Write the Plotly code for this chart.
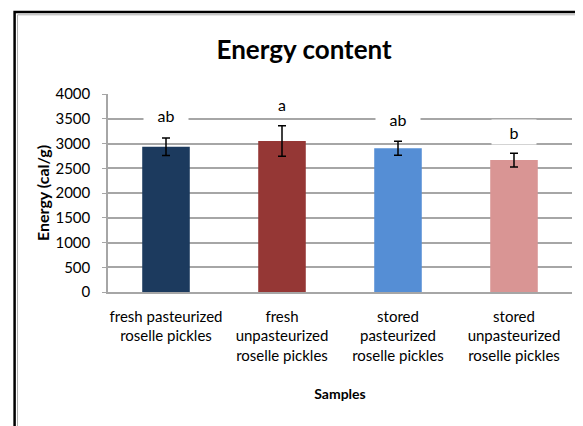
import plotly.graph_objects as go

categories = ["fresh pasteurized<br>roselle pickles",
              "fresh<br>unpasteurized<br>roselle pickles",
              "stored<br>pasteurized<br>roselle pickles",
              "stored<br>unpasteurized<br>roselle pickles"]
energy = [2935, 3050, 2905, 2665]
errors = [175, 310, 140, 140]
letters = ["ab", "a", "ab", "b"]
letter_y = [3570, 3800, 3490, 3230]
colors = ["#1C3A5E", "#953735", "#558ED5", "#D99594"]
yticks = [0, 500, 1000, 1500, 2000, 2500, 3000, 3500, 4000]

font = "Lato, 'Open Sans', sans-serif"

fig = go.Figure()
fig.add_trace(go.Bar(
    x=categories, y=energy,
    marker=dict(color=colors, line=dict(width=0)),
    error_y=dict(type="data", array=errors, color="black", thickness=1.5, width=4),
    width=0.41,
))

for c, t, ly in zip(categories, letters, letter_y):
    fig.add_annotation(x=c, y=ly, xref="x", yref="y", text=t, showarrow=False,
                       font=dict(family=font, size=16, color="black"),
                       bgcolor="white", width=42, height=22)

# outer frame (page body has 8px margin -> figure starts at (8,8))
fig.add_shape(type="rect", xref="paper", yref="paper",
              x0=-0.2013, x1=1.2, y0=-0.8, y1=1.414,
              line=dict(color="black", width=2.5), layer="below")
fig.add_shape(type="rect", xref="paper", yref="paper",
              x0=-0.195, x1=1.2, y0=-0.8, y1=1.40,
              line=dict(color="#b0b0b0", width=1), layer="below")

fig.update_layout(
    width=575, height=418,
    margin=dict(l=100, r=11, t=86, b=134, autoexpand=False),
    paper_bgcolor="white", plot_bgcolor="white",
    showlegend=False,
    title=dict(text="<b>Energy content</b>", x=0.515, xanchor="center",
               y=0.9, yanchor="middle",
               font=dict(family=font, size=26, color="black")),
    font=dict(family=font, size=14, color="black"),
)
fig.update_yaxes(range=[0, 4000], tickvals=yticks,
                 showgrid=True, gridcolor="#a6a6a6", gridwidth=1.5,
                 showline=True, linecolor="#a6a6a6", linewidth=1.5,
                 ticks="outside", ticklen=4, tickcolor="#a6a6a6",
                 ticklabelstandoff=9,
                 zeroline=False,
                 tickfont=dict(family=font, size=15),
                 title=dict(text="<b>Energy (cal/g)</b>", standoff=2,
                            font=dict(family=font, size=16)))
fig.update_xaxes(showline=True, linecolor="#a6a6a6", linewidth=1.5,
                 ticks="", tickfont=dict(family=font, size=15),
                 ticklabelstandoff=10,
                 title=dict(text="<b>Samples</b>", standoff=26,
                            font=dict(family=font, size=14)))

fig.write_html("out.html")
